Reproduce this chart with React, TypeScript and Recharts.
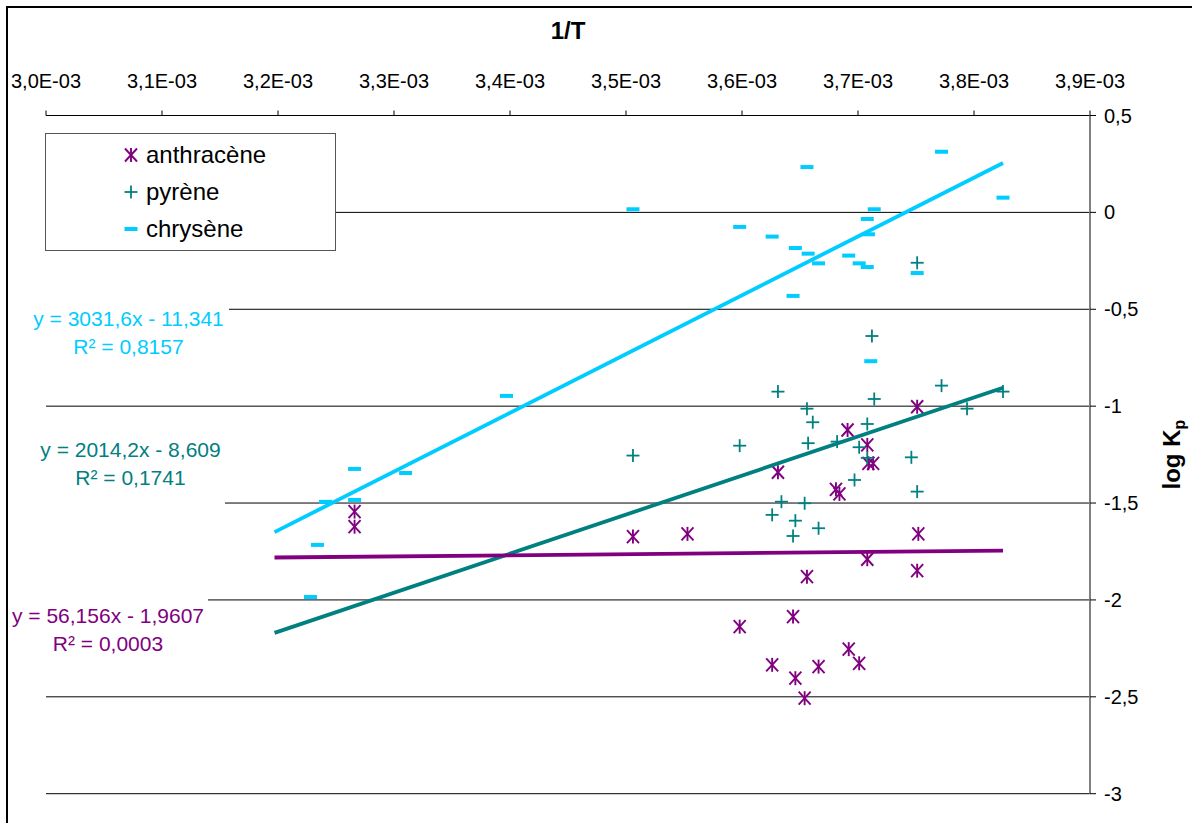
import React from 'react';
import { ScatterChart, Scatter, XAxis, YAxis, CartesianGrid, Legend, Label } from 'recharts';

const FONT = '"Liberation Sans", Arial, Helvetica, sans-serif';

const CYAN = '#00CCFF';
const TEAL = '#008080';
const PURPLE = '#800080';

// axis ticks (x in units of 1E-03)
const xTicks = [3.0, 3.1, 3.2, 3.3, 3.4, 3.5, 3.6, 3.7, 3.8, 3.9];
const yTicks = [-3, -2.5, -2, -1.5, -1, -0.5, 0, 0.5];

// anthracène
const anthraceneX = [3.751, 3.691, 3.708, 3.709, 3.713, 3.631, 3.681, 3.684, 3.506, 3.553, 3.752, 3.708, 3.656, 3.751, 3.644, 3.598, 3.692, 3.626, 3.666, 3.701, 3.646, 3.654, 3.266, 3.266];
const anthraceneY = [-1.003, -1.123, -1.2, -1.295, -1.295, -1.341, -1.429, -1.453, -1.673, -1.659, -1.659, -1.79, -1.88, -1.849, -2.086, -2.138, -2.254, -2.335, -2.344, -2.327, -2.404, -2.507, -1.544, -1.622];

// pyrène
const pyreneX = [3.751, 3.712, 3.631, 3.772, 3.714, 3.825, 3.656, 3.794, 3.661, 3.708, 3.506, 3.598, 3.657, 3.682, 3.701, 3.708, 3.746, 3.697, 3.751, 3.634, 3.654, 3.626, 3.646, 3.666, 3.644];
const pyreneY = [-0.26, -0.638, -0.925, -0.894, -0.963, -0.925, -1.013, -1.013, -1.083, -1.092, -1.255, -1.204, -1.191, -1.183, -1.212, -1.267, -1.264, -1.381, -1.441, -1.493, -1.501, -1.561, -1.591, -1.63, -1.67];

// chrysène
const chryseneX = [3.506, 3.598, 3.626, 3.656, 3.646, 3.657, 3.666, 3.644, 3.692, 3.701, 3.708, 3.708, 3.709, 3.714, 3.751, 3.772, 3.825, 3.711, 3.228, 3.234, 3.241, 3.266, 3.266, 3.31, 3.397];
const chryseneY = [0.016, -0.075, -0.125, 0.234, -0.184, -0.213, -0.263, -0.431, -0.223, -0.263, -0.282, -0.034, -0.113, 0.016, -0.313, 0.313, 0.076, -0.768, -1.985, -1.716, -1.494, -1.324, -1.484, -1.345, -0.947];

// trendlines (end points)
const trendX = [3.197, 3.825];
const anthraceneTrendY = [-1.781, -1.746];
const pyreneTrendY = [-2.17, -0.905];
const chryseneTrendY = [-1.65, 0.255];

const toPoints = (xs: number[], ys: number[]) => xs.map((x, i) => ({ x, y: ys[i] }));

const anthraceneData = toPoints(anthraceneX, anthraceneY);
const pyreneData = toPoints(pyreneX, pyreneY);
const chryseneData = toPoints(chryseneX, chryseneY);
const anthraceneTrend = toPoints(trendX, anthraceneTrendY);
const pyreneTrend = toPoints(trendX, pyreneTrendY);
const chryseneTrend = toPoints(trendX, chryseneTrendY);

const AsteriskMark = ({ cx, cy, color }: any) => (
  <g stroke={color} strokeWidth={1.9} fill="none">
    <line x1={cx - 6} y1={cy - 6.5} x2={cx + 6} y2={cy + 6.5} />
    <line x1={cx - 6} y1={cy + 6.5} x2={cx + 6} y2={cy - 6.5} />
    <line x1={cx} y1={cy - 7} x2={cx} y2={cy + 7} />
  </g>
);

const PlusMark = ({ cx, cy, color }: any) => (
  <g stroke={color} strokeWidth={1.8} fill="none">
    <line x1={cx - 6.5} y1={cy} x2={cx + 6.5} y2={cy} />
    <line x1={cx} y1={cy - 6.5} x2={cx} y2={cy + 6.5} />
  </g>
);

const DashMark = ({ cx, cy, color }: any) => (
  <rect x={cx - 6.5} y={cy - 2} width={13} height={4} fill={color} />
);

const series = [
  { name: 'anthracène', color: PURPLE, Mark: AsteriskMark },
  { name: 'pyrène', color: TEAL, Mark: PlusMark },
  { name: 'chrysène', color: CYAN, Mark: DashMark },
];

const LegendBox = () => (
  <div
    style={{
      boxSizing: 'border-box',
      width: 291,
      height: 118,
      border: '1px solid #555',
      background: '#fff',
      fontFamily: FONT,
      fontSize: 24,
      color: '#000',
      paddingTop: 2.5,
    }}
  >
    {series.map((s) => (
      <div key={s.name} style={{ display: 'flex', alignItems: 'center', height: 37 }}>
        <svg width={14} height={16} style={{ marginLeft: 78, display: 'block' }}>
          <s.Mark cx={7} cy={8} color={s.color} />
        </svg>
        <span style={{ marginLeft: 8, lineHeight: '28px' }}>{s.name}</span>
      </div>
    ))}
  </div>
);

const eqLabels = [
  { l1: 'y = 3031,6x - 11,341', l2: 'R² = 0,8157', color: CYAN, left: 28, top: 303, width: 201, height: 59, pad: 2 },
  { l1: 'y = 2014,2x - 8,609', l2: 'R² = 0,1741', color: TEAL, left: 36, top: 435, width: 189, height: 72, pad: 1 },
  { l1: 'y = 56,156x - 1,9607', l2: 'R² = 0,0003', color: PURPLE, left: 8, top: 597, width: 200, height: 63, pad: 5 },
];

const XTitle = ({ viewBox }: any) => {
  const cx = viewBox.x + viewBox.width / 2;
  return (
    <text x={cx} y={viewBox.y - 17} textAnchor="middle" fontFamily={FONT} fontSize={24} fontWeight="bold" fill="#000">
      1/T
    </text>
  );
};

const YTitle = ({ viewBox }: any) => {
  const cx = viewBox.x + 82;
  const cy = viewBox.y + viewBox.height / 2;
  return (
    <text
      x={cx}
      y={cy}
      dy="0.35em"
      textAnchor="middle"
      transform={`rotate(-90 ${cx} ${cy})`}
      fontFamily={FONT}
      fontSize={24}
      fontWeight="bold"
      fill="#000"
    >
      log K
      <tspan fontSize={16} dy="5">p</tspan>
    </text>
  );
};

const fmtX = (v: number) => v.toFixed(1).replace('.', ',') + 'E-03';
const fmtY = (v: number) => String(v).replace('.', ',');

const Empty = () => <g />;

export default function App() {
  return (
    <div style={{ position: 'absolute', left: 0, top: 0, width: 1192, height: 823, overflow: 'hidden', background: '#fff' }}>
      <div
        style={{
          position: 'absolute',
          left: 6,
          top: 6,
          width: 1220,
          height: 840,
          border: '2px solid #000',
        }}
      />
      <div style={{ position: 'absolute', left: 0, top: 0 }}>
        <ScatterChart
          width={1192}
          height={823}
          margin={{ top: 55.5, right: 32, bottom: 29.3, left: 46 }}
        >
          <CartesianGrid vertical={false} stroke="#000" strokeWidth={1} />
          <XAxis
            type="number"
            dataKey="x"
            orientation="top"
            domain={[3.0, 3.9]}
            ticks={xTicks}
            interval={0}
            height={60}
            tickFormatter={fmtX}
            tickSize={5}
            tickMargin={22.5}
            axisLine={{ stroke: '#000', strokeWidth: 1 }}
            tickLine={{ stroke: '#000' }}
            tick={{ fill: '#000', fontSize: 20, fontFamily: FONT }}
          >
            <Label content={<XTitle />} />
          </XAxis>
          <YAxis
            type="number"
            dataKey="y"
            orientation="right"
            domain={[-3, 0.5]}
            ticks={yTicks}
            interval={0}
            width={70}
            tickFormatter={fmtY}
            tickSize={6}
            tickMargin={8}
            axisLine={{ stroke: '#808080', strokeWidth: 2 }}
            tickLine={{ stroke: '#000' }}
            tick={{ fill: '#000', fontSize: 20, fontFamily: FONT }}
          >
            <Label content={<YTitle />} />
          </YAxis>
          <Legend
            layout="horizontal"
            verticalAlign="middle"
            align="center"
            content={<LegendBox />}
            wrapperStyle={{ left: 45, top: 133, width: 291, height: 118 }}
          />
          <Scatter
            name="anthracène"
            data={anthraceneData}
            isAnimationActive={false}
            fill={PURPLE}
            shape={(p: any) => <AsteriskMark cx={p.cx} cy={p.cy} color={PURPLE} />}
          />
          <Scatter
            name="pyrène"
            data={pyreneData}
            isAnimationActive={false}
            fill={TEAL}
            shape={(p: any) => <PlusMark cx={p.cx} cy={p.cy} color={TEAL} />}
          />
          <Scatter
            name="chrysène"
            data={chryseneData}
            isAnimationActive={false}
            fill={CYAN}
            shape={(p: any) => <DashMark cx={p.cx} cy={p.cy} color={CYAN} />}
          />
          <Scatter
            name="chrysène trend"
            data={chryseneTrend}
            isAnimationActive={false}
            legendType="none"
            line={{ stroke: CYAN, strokeWidth: 3.8 }}
            lineType="joint"
            shape={Empty}
          />
          <Scatter
            name="pyrène trend"
            data={pyreneTrend}
            isAnimationActive={false}
            legendType="none"
            line={{ stroke: TEAL, strokeWidth: 3.8 }}
            lineType="joint"
            shape={Empty}
          />
          <Scatter
            name="anthracène trend"
            data={anthraceneTrend}
            isAnimationActive={false}
            legendType="none"
            line={{ stroke: PURPLE, strokeWidth: 3.8 }}
            lineType="joint"
            shape={Empty}
          />
        </ScatterChart>
      </div>
      {eqLabels.map((e) => (
        <div
          key={e.l1}
          style={{
            position: 'absolute',
            left: e.left,
            top: e.top,
            width: e.width,
            height: e.height,
            boxSizing: 'border-box',
            paddingTop: e.pad,
            background: '#fff',
            color: e.color,
            fontFamily: FONT,
            fontSize: 21,
            lineHeight: '28px',
            textAlign: 'center',
            whiteSpace: 'nowrap',
          }}
        >
          <div>{e.l1}</div>
          <div>{e.l2}</div>
        </div>
      ))}
    </div>
  );
}
